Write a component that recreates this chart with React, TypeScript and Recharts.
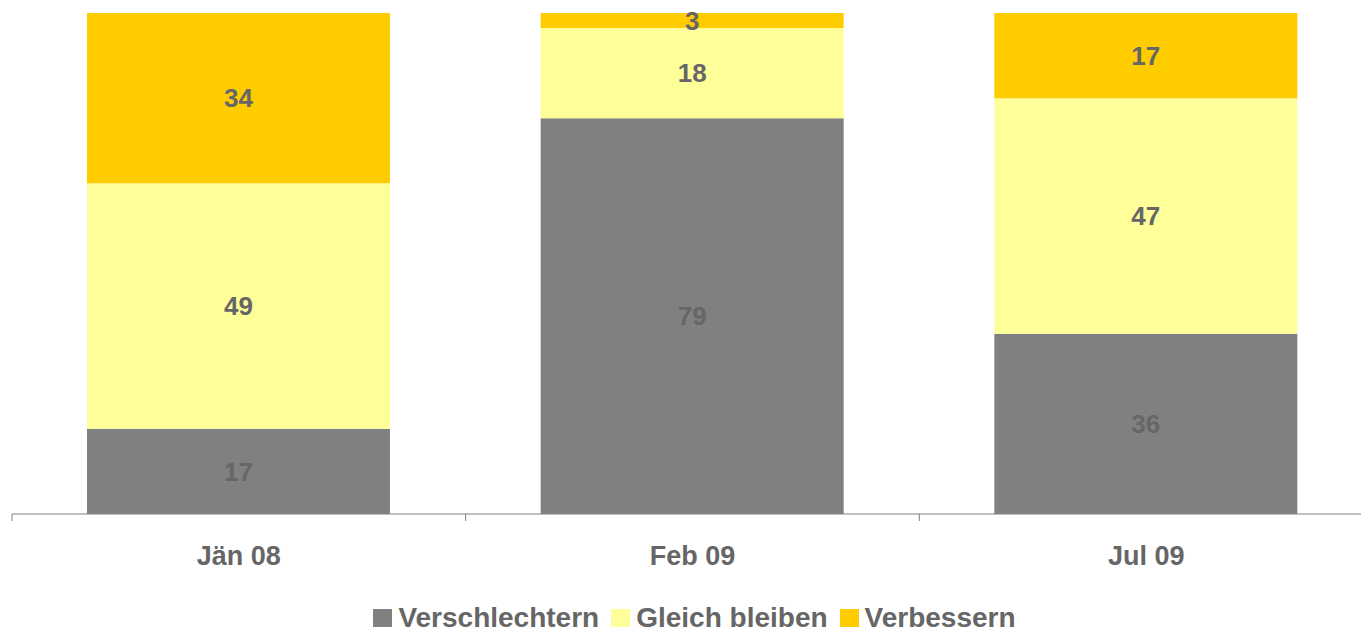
import React from "react";
import { BarChart, Bar, XAxis, YAxis, Legend, LabelList } from "recharts";

const categories = ["Jän 08", "Feb 09", "Jul 09"];
const verschlechtern = [17, 79, 36];
const gleichBleiben = [49, 18, 47];
const verbessern = [34, 3, 17];

const seriesNames = ["Verschlechtern", "Gleich bleiben", "Verbessern"];
const seriesColors = ["#808080", "#FFFF99", "#FFCC00"];

const data = categories.map((name, i) => ({
  name,
  v: verschlechtern[i],
  g: gleichBleiben[i],
  b: verbessern[i],
}));

const FONT = "'Liberation Sans', Arial, sans-serif";
const TEXT = "#666666";
const CHART_W = 1373;
const MARGIN_L = 12;
const STEP = (CHART_W - MARGIN_L) / categories.length;

const CategoryTick = (props: any) => {
  const { x, y, payload } = props;
  const left = x - STEP / 2;
  return (
    <g>
      <line x1={left} y1={y} x2={left} y2={y + 7} stroke="#808080" strokeWidth={1} />
      <text
        x={x}
        y={y + 51}
        textAnchor="middle"
        fill={TEXT}
        fontFamily={FONT}
        fontWeight="bold"
        fontSize={27}
      >
        {payload.value}
      </text>
    </g>
  );
};

const LegendContent = () => (
  <div
    style={{
      display: "flex",
      justifyContent: "center",
      alignItems: "center",
      height: 24,
      lineHeight: "24px",
      fontFamily: FONT,
      fontWeight: "bold",
      fontSize: 28,
      color: TEXT,
      paddingLeft: 40,
    }}
  >
    {seriesNames.map((n, i) => (
      <div key={n} style={{ display: "flex", alignItems: "center", marginRight: 12 }}>
        <span
          style={{
            display: "inline-block",
            width: 19,
            height: 18,
            background: seriesColors[i],
            marginRight: 6,
          }}
        />
        <span>{n}</span>
      </div>
    ))}
  </div>
);

const labelProps = {
  position: "center" as const,
  fill: TEXT,
  fontFamily: FONT,
  fontWeight: "bold",
  fontSize: 26,
};

const App: React.FC = () => {
  return (
    <div style={{ position: "absolute", left: 0, top: 0 }}>
      <BarChart
        width={CHART_W}
        height={630}
        data={data}
        margin={{ top: 13, right: 0, left: MARGIN_L, bottom: 0 }}
      >
        <XAxis
          dataKey="name"
          axisLine={{ stroke: "#808080", strokeWidth: 1 }}
          tickLine={false}
          tickSize={0}
          tickMargin={0}
          height={92}
          interval={0}
          tick={<CategoryTick />}
        />
        <YAxis hide domain={[0, 100]} />
        <Legend
          verticalAlign="bottom"
          height={24}
          content={<LegendContent />}
          wrapperStyle={{ left: 0, width: 1361, top: 606 }}
        />
        <Bar dataKey="v" name={seriesNames[0]} stackId="a" fill={seriesColors[0]} barSize={303} isAnimationActive={false}>
          <LabelList dataKey="v" {...labelProps} />
        </Bar>
        <Bar dataKey="g" name={seriesNames[1]} stackId="a" fill={seriesColors[1]} barSize={303} isAnimationActive={false}>
          <LabelList dataKey="g" {...labelProps} />
        </Bar>
        <Bar dataKey="b" name={seriesNames[2]} stackId="a" fill={seriesColors[2]} barSize={303} isAnimationActive={false}>
          <LabelList dataKey="b" {...labelProps} />
        </Bar>
      </BarChart>
    </div>
  );
};

export default App;
